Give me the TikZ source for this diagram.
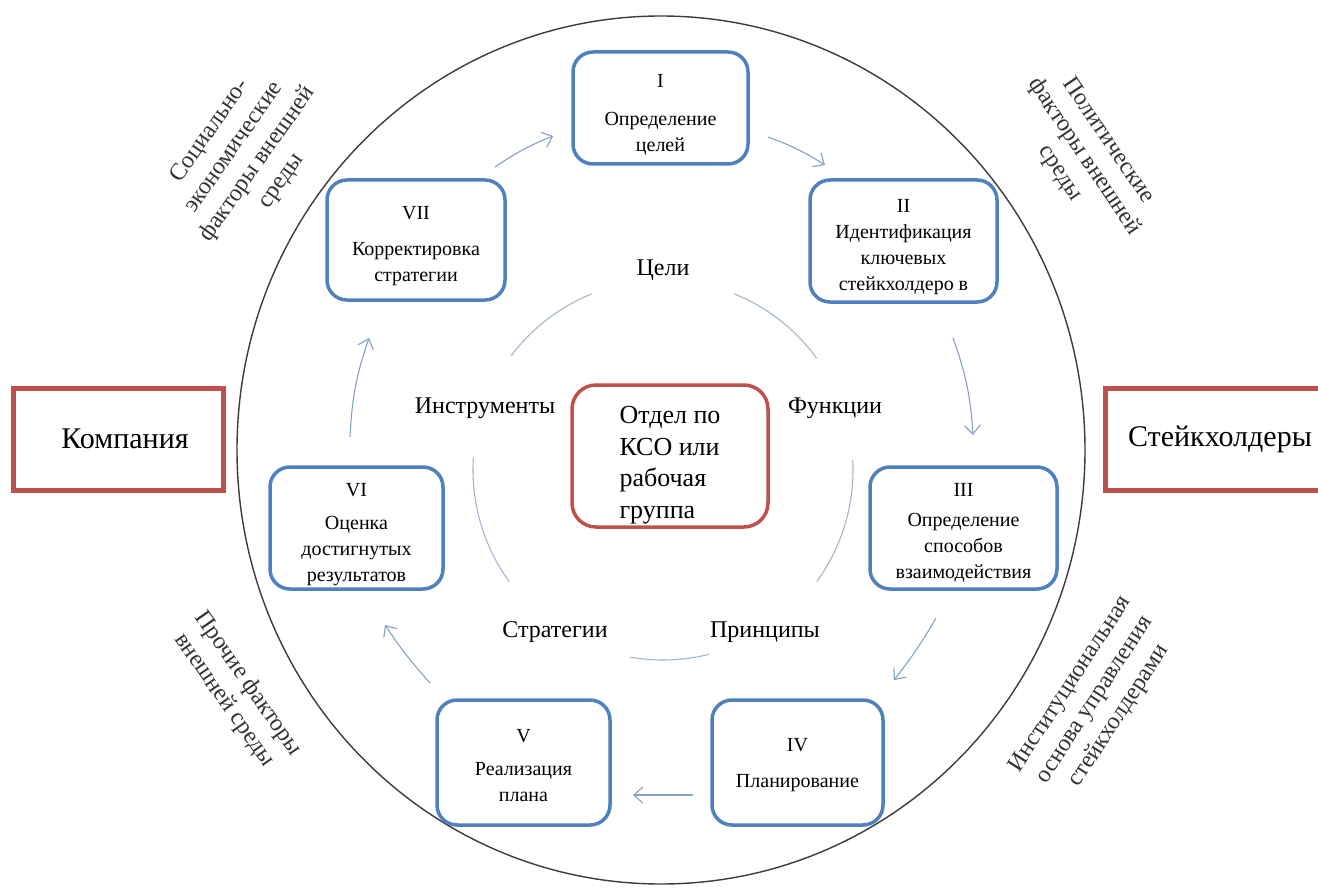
\documentclass[tikz,border=0pt]{standalone}
\usepackage{fontspec}
\setmainfont{Liberation Serif}
\usetikzlibrary{arrows.meta}
\definecolor{blueline}{RGB}{79,129,189}
\definecolor{redline}{RGB}{192,80,77}
\definecolor{arrcol}{RGB}{135,160,195}
\definecolor{arccol}{RGB}{165,182,205}
\definecolor{circcol}{RGB}{60,60,60}
\tikzset{
  stagebox/.style={draw=blueline, line width=3.5pt, rounded corners=20pt},
  boxtxt/.style={align=center, inner sep=0pt, font=\fontsize{20}{26}\selectfont},
  redbox/.style={draw=redline, line width=5pt},
  redtxt/.style={inner sep=0pt, font=\fontsize{30}{34}\selectfont},
  centerbox/.style={draw=redline, line width=3.5pt, rounded corners=24pt},
  ctrtxt/.style={align=left, inner sep=0pt, font=\fontsize{26}{31.5}\selectfont},
  innerlbl/.style={font=\fontsize{24}{28}\selectfont},
  rotlbl/.style={align=center, font=\fontsize{24}{29}\selectfont, text=black!80},
  arr/.style={draw=arrcol, line width=1.1pt, -{Straight Barb[length=9pt,width=16pt]}},
  innerarc/.style={draw=arccol, line width=1.1pt}
}
\begin{document}
\begin{tikzpicture}[x=1pt,y=-1pt]
\useasboundingbox (0,0) rectangle (1318,888);
\clip (0,0) rectangle (1318,888);
\fill[white] (0,0) rectangle (1318,888);

% outer circle
\draw[circcol, line width=1.4pt] (661,450) ellipse [x radius=424, y radius=434];

% side boxes
\node[redbox, minimum width=210pt, minimum height=102pt,
  label={[redtxt, xshift=7pt]center:Компания}] (comp) at (118,439) {};
\node[redbox, minimum width=225pt, minimum height=102pt,
  label={[redtxt, xshift=2.5pt]center:Стейкхолдеры}] (stake) at (1217.5,439) {};

% stage boxes
\node[stagebox, minimum width=175pt, minimum height=112pt,
  label={[boxtxt, yshift=-7pt]center:{I\\[12pt]Определение\\целей}}] (b1) at (660.5,108) {};
\node[stagebox, minimum width=187pt, minimum height=122pt,
  label={[boxtxt, yshift=-6.5pt]center:{II\\Идентификация\\ключевых\\стейкхолдеро в}}] (b2) at (903.5,241) {};
\node[stagebox, minimum width=187pt, minimum height=122pt,
  label={[boxtxt, yshift=-5pt]center:{III\\[4pt]Определение\\способов\\взаимодействия}}] (b3) at (963.5,528) {};
\node[stagebox, minimum width=171pt, minimum height=125pt,
  label={[boxtxt, yshift=-3pt]center:{IV\\[10pt]Планирование}}] (b4) at (797.5,762.5) {};
\node[stagebox, minimum width=173pt, minimum height=125pt,
  label={[boxtxt, yshift=-3pt]center:{V\\[7pt]Реализация\\плана}}] (b5) at (523.5,762.5) {};
\node[stagebox, minimum width=173pt, minimum height=122pt,
  label={[boxtxt, yshift=-7pt]center:{VI\\[7pt]Оценка\\достигнутых\\результатов}}] (b6) at (356.5,528) {};
\node[stagebox, minimum width=178pt, minimum height=120pt,
  label={[boxtxt, yshift=-6.5pt]center:{VII\\[10pt]Корректировка\\стратегии}}] (b7) at (416,240) {};

% center box
\node[centerbox, minimum width=196pt, minimum height=142pt,
  label={[ctrtxt, yshift=-9pt]center:{Отдел по\\КСО или\\рабочая\\группа}}] (ctr) at (670,456) {};

% inner labels
\node[innerlbl] (l1) at (663,270) {Цели};
\node[innerlbl] (l2) at (835,408) {Функции};
\node[innerlbl] (l3) at (765,632) {Принципы};
\node[innerlbl] (l4) at (555,632) {Стратегии};
\node[innerlbl] (l5) at (485,408) {Инструменты};

% inner arcs
\coordinate (ic) at (663,470);
\draw[innerarc] (ic) ++(-68:190) arc[start angle=-68, end angle=-36, radius=190];
\draw[innerarc] (ic) ++(-3:190) arc[start angle=-3, end angle=36, radius=190];
\draw[innerarc] (ic) ++(76:190) arc[start angle=76, end angle=100, radius=190];
\draw[innerarc] (ic) ++(144:190) arc[start angle=144, end angle=184, radius=190];
\draw[innerarc] (ic) ++(217:190) arc[start angle=217, end angle=248, radius=190];

% arrows
\coordinate (a1s) at (495,167); \coordinate (a1e) at (553,136);
\coordinate (a2s) at (768,137); \coordinate (a2e) at (825,165);
\coordinate (a3s) at (953,338); \coordinate (a3e) at (973,435);
\coordinate (a4s) at (936,618); \coordinate (a4e) at (894,680);
\coordinate (a5s) at (693,795); \coordinate (a5e) at (633,795);
\coordinate (a6s) at (430,683); \coordinate (a6e) at (385,625);
\coordinate (a7s) at (350,437); \coordinate (a7e) at (369,338);
\draw[arr] (a1s) to[bend left=6] (a1e);
\draw[arr] (a2s) to[bend left=6] (a2e);
\draw[arr] (a3s) to[bend left=8] (a3e);
\draw[arr] (a4s) to[bend left=4] (a4e);
\draw[arr] (a5s) -- (a5e);
\draw[arr] (a6s) to[bend left=4] (a6e);
\draw[arr] (a7s) to[bend left=8] (a7e);

% rotated labels
\node[rotlbl, rotate=55] (t1) at (246,156) {Социально-\\экономические\\факторы внешней\\среды};
\node[rotlbl, rotate=-56] (t2) at (1084,157) {Политические\\факторы внешней\\среды};
\node[rotlbl, rotate=57] (t3) at (1095,700) {Институциональная\\основа управления\\стейкхолдерами};
\node[rotlbl, rotate=-55] (t4) at (236,692) {Прочие факторы\\внешней среды};
\end{tikzpicture}
\end{document}
